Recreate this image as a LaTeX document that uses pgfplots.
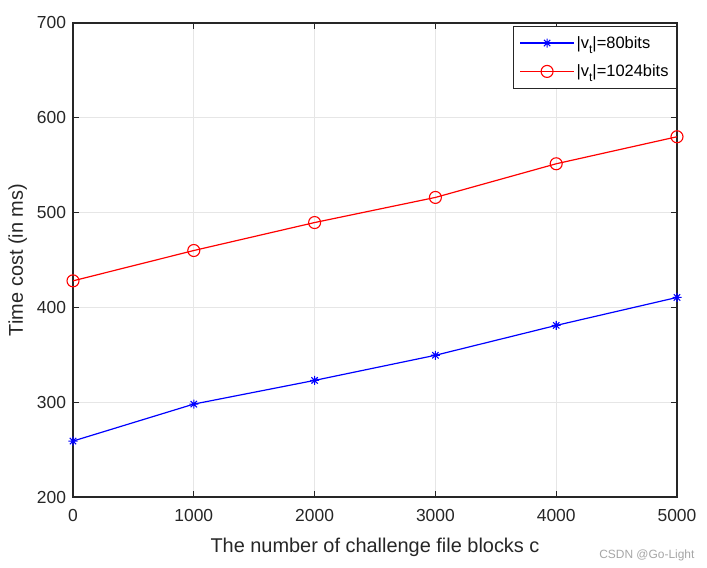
\documentclass[border=0pt]{standalone}
\usepackage{pgfplots}
\pgfplotsset{compat=1.18}
\usepackage{fontspec}
\setmainfont{Liberation Sans}
\definecolor{axgray}{HTML}{262626}
\definecolor{gridgray}{HTML}{E6E6E6}
\pgfdeclareplotmark{mstar}{%
  \pgfpathmoveto{\pgfqpoint{-\pgfplotmarksize}{0pt}}\pgfpathlineto{\pgfqpoint{\pgfplotmarksize}{0pt}}%
  \pgfpathmoveto{\pgfqpoint{0pt}{-\pgfplotmarksize}}\pgfpathlineto{\pgfqpoint{0pt}{\pgfplotmarksize}}%
  \pgfpathmoveto{\pgfqpoint{-0.707\pgfplotmarksize}{-0.707\pgfplotmarksize}}\pgfpathlineto{\pgfqpoint{0.707\pgfplotmarksize}{0.707\pgfplotmarksize}}%
  \pgfpathmoveto{\pgfqpoint{-0.707\pgfplotmarksize}{0.707\pgfplotmarksize}}\pgfpathlineto{\pgfqpoint{0.707\pgfplotmarksize}{-0.707\pgfplotmarksize}}%
  \pgfusepathqstroke}
\begin{document}
\begin{tikzpicture}
\useasboundingbox (0,0) rectangle (707bp,568bp);
\begin{axis}[
  at={(73bp,71bp)}, anchor=south west,
  scale only axis, width=604bp, height=474bp,
  xmin=0, xmax=5000, ymin=200, ymax=700,
  xtick={0,1000,...,5000}, ytick={200,300,...,700},
  scaled x ticks=false,
  /pgf/number format/assume math mode=true,
  /pgf/number format/1000 sep={},
  tick label style={font=\fontsize{17.5}{20}\selectfont, color=axgray},
  xticklabel style={yshift=-9bp},
  yticklabel style={xshift=-3.5bp},
  label style={font=\fontsize{20}{24}\selectfont, color=axgray},
  xlabel={The number of challenge file blocks c},
  ylabel={Time cost (in ms)},
  xlabel style={at={([yshift=-55bp]rel axis cs:0.5,0)}, anchor=base},
  ylabel style={at={([xshift=-50bp]rel axis cs:0,0.5)}, anchor=base, rotate=0},
  grid=major,
  major grid style={gridgray, line width=1bp},
  axis line style={axgray, line width=1.3bp},
  tick style={axgray, line width=1.2bp},
  tick align=inside, major tick length=6bp,
  legend style={at={(rel axis cs:1,0.994)}, anchor=north east, draw=axgray, line width=1bp,
    font=\fontsize{16.5}{19}\selectfont, row sep=11bp, inner xsep=6bp, inner ysep=8bp},
  legend cell align=left,
  legend image code/.code={\draw[line width=1.2bp, mark repeat=2, mark phase=2] plot coordinates {(0bp,0bp) (27bp,0bp) (54bp,0bp)};},
]
\addplot[blue, line width=1.2bp, mark=mstar, mark size=4.5bp, mark options={line width=1.1bp}]
  coordinates {(0,259) (1000,298) (2000,323) (3000,349.5) (4000,381) (5000,410.5)};
\addlegendentry{|v\raisebox{-0.55ex}{\fontsize{12}{13}\selectfont t}|=80bits}
\addplot[red, line width=1.2bp, mark=o, mark size=6bp, mark options={line width=1.1bp}]
  coordinates {(0,428) (1000,460) (2000,489.5) (3000,516) (4000,551.5) (5000,580)};
\addlegendentry{|v\raisebox{-0.55ex}{\fontsize{12}{13}\selectfont t}|=1024bits}
\end{axis}
\node[anchor=east, text=gray!70, font=\fontsize{12}{14}\selectfont] at (698bp,13bp) {CSDN @Go-Light};
\end{tikzpicture}
\end{document}
